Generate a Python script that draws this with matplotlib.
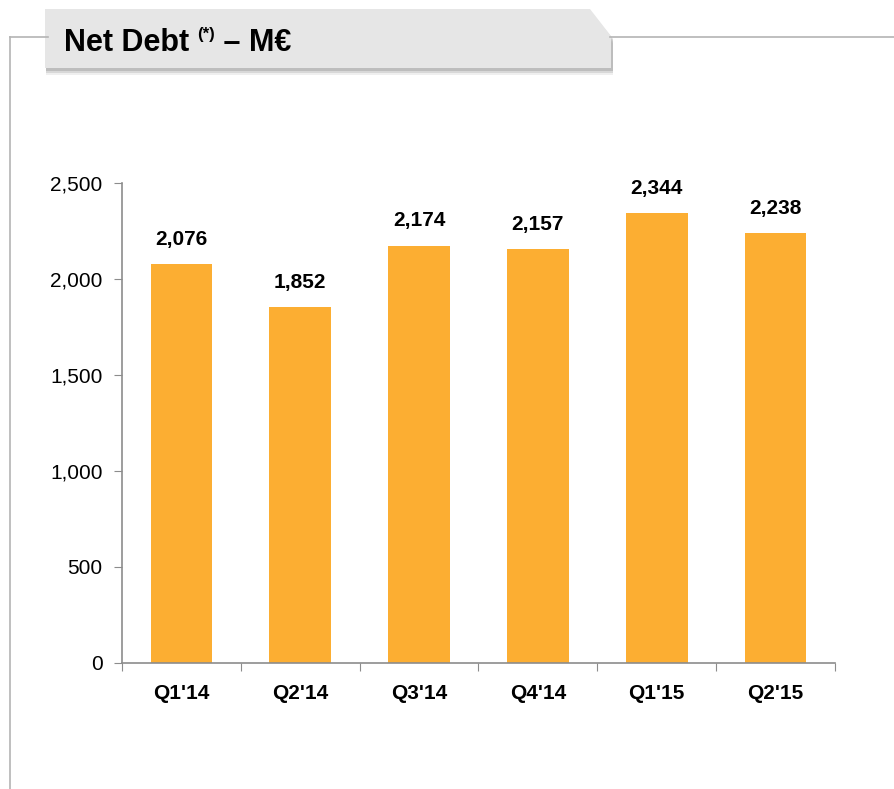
import matplotlib
matplotlib.use("Agg")
import matplotlib.pyplot as plt
from matplotlib.patches import Polygon
from matplotlib.lines import Line2D

quarters = ["Q1'14", "Q2'14", "Q3'14", "Q4'14", "Q1'15", "Q2'15"]
net_debt = [2076, 1852, 2174, 2157, 2344, 2238]
y_ticks = [0, 500, 1000, 1500, 2000, 2500]

plt.rcParams['font.family'] = ['Liberation Sans', 'DejaVu Sans']

W, H = 895, 789
fig = plt.figure(figsize=(W / 100, H / 100), dpi=100)

def fx(px):
    return px / W

def fy(py):
    return 1 - py / H

# outer frame lines
frame_col = '#b4b4b4'
fig.add_artist(Line2D([fx(10), fx(10)], [fy(37), fy(789)], color=frame_col, lw=1.2))
fig.add_artist(Line2D([fx(10), fx(48)], [fy(37), fy(37)], color=frame_col, lw=1.2))
fig.add_artist(Line2D([fx(610), fx(895)], [fy(37), fy(37)], color=frame_col, lw=1.2))

# title box with soft shadow
for off, a in [(7, 0.12), (5, 0.2), (3, 0.3)]:
    shadow = [(46, 9 + off), (591, 9 + off), (612 + 1, 36 + off), (612 + 1, 68 + off), (46, 68 + off)]
    fig.add_artist(Polygon([(fx(x), fy(y)) for x, y in shadow], closed=True,
                           facecolor='#808080', edgecolor='none', alpha=a))
box = [(45, 9), (590, 9), (611, 36), (611, 68), (45, 68)]
fig.add_artist(Polygon([(fx(x), fy(y)) for x, y in box], closed=True,
                       facecolor='#e6e6e6', edgecolor='none'))

t1 = fig.text(fx(64), fy(51), "Net Debt ", fontsize=22, fontweight='bold',
              va='baseline', ha='left')
t2 = fig.text(0, 0, "(*)", fontsize=12, fontweight='bold', va='baseline', ha='left')
t3 = fig.text(0, 0, " – M€", fontsize=22, fontweight='bold', va='baseline', ha='left')
fig.canvas.draw()
r = fig.canvas.get_renderer()
bb1 = t1.get_window_extent(r)
t2.set_position((bb1.x1 / W, fy(51) + 12 / H))
bb2 = t2.get_window_extent(r)
t3.set_position((bb2.x1 / W, fy(51)))

ax = fig.add_axes([fx(122), fy(663), fx(835) - fx(122), fy(183) - fy(663)])
x = range(len(quarters))
ax.bar(x, net_debt, width=0.52, color='#fcae32')
for xi, v in zip(x, net_debt):
    ax.annotate(f"{v:,}", (xi, v), xytext=(0, 11), textcoords='offset points',
                ha='center', va='bottom', fontsize=15, fontweight='bold')

ax.set_xlim(-0.5, len(quarters) - 0.5)
ax.set_ylim(0, 2500)
ax.set_yticks(y_ticks)
ax.set_yticklabels([f"{t:,}" for t in y_ticks], fontsize=15)
ax.set_xticks([i - 0.5 for i in range(len(quarters) + 1)])
ax.set_xticklabels([])
ax.set_xticks(list(x), minor=True)
ax.set_xticklabels(quarters, minor=True, fontsize=15, fontweight='bold')
ax.tick_params(axis='x', which='minor', length=0, pad=15)
ax.tick_params(axis='x', which='major', length=6, color='#8c8c8c', direction='out')
ax.tick_params(axis='y', length=6, color='#8c8c8c', direction='out', pad=8)
for s in ['top', 'right']:
    ax.spines[s].set_visible(False)
for s in ['left', 'bottom']:
    ax.spines[s].set_color('#8c8c8c')
    ax.spines[s].set_linewidth(1.2)

fig.savefig('out.png', dpi=100)
